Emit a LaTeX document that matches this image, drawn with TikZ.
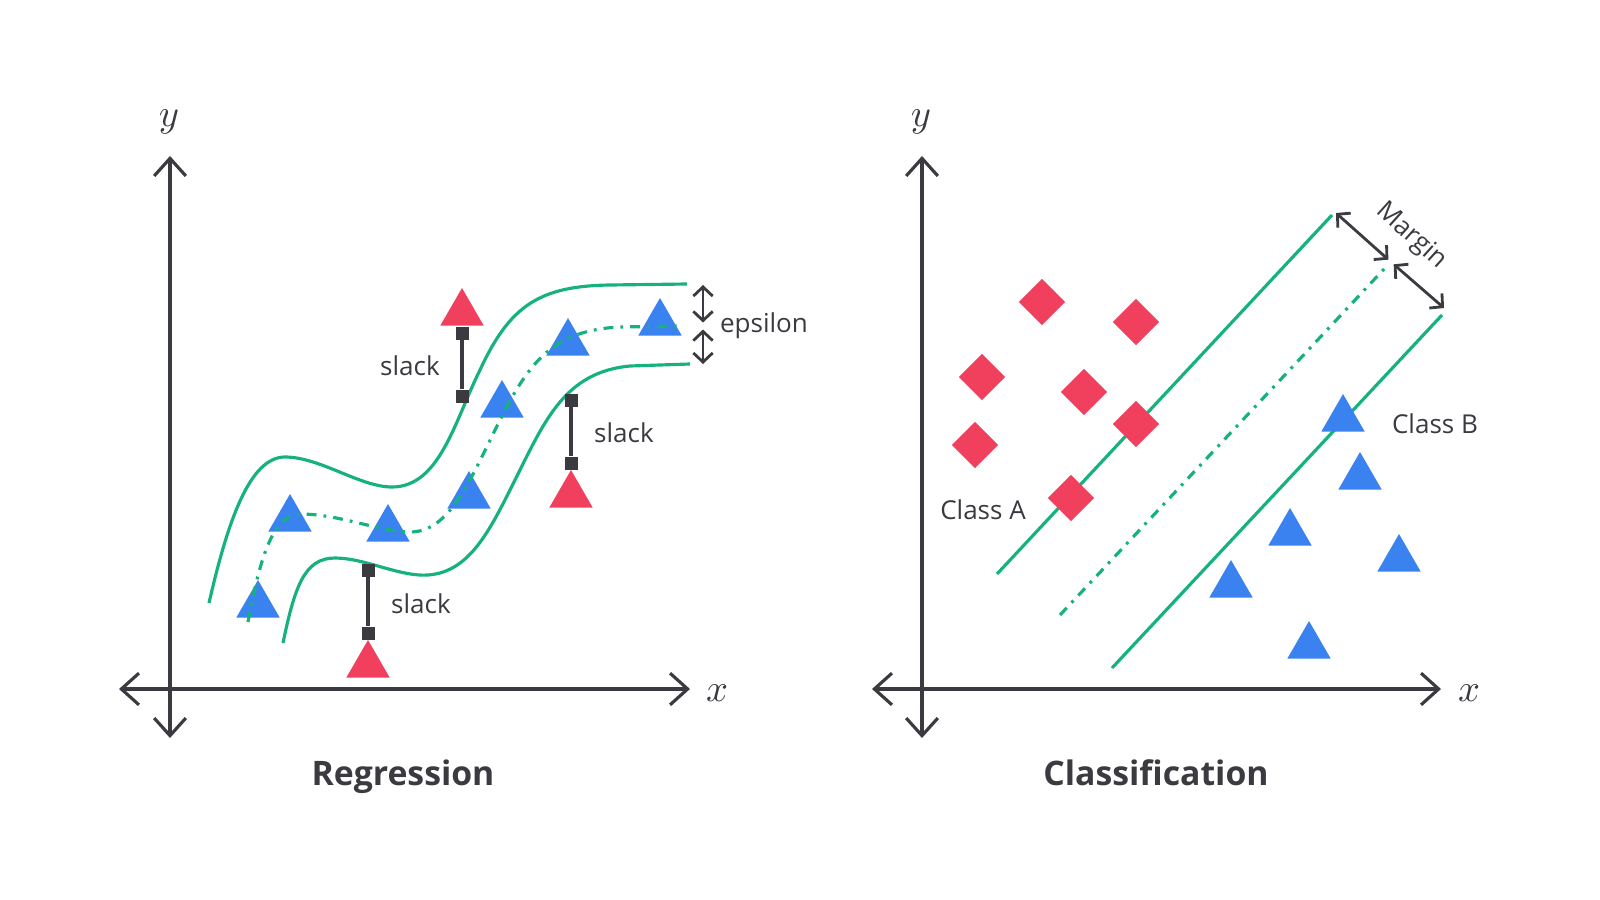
\documentclass[tikz,border=0pt]{standalone}
\usepackage{fontspec}
\setmainfont{Open Sans}
\usepackage{tikz}
\usetikzlibrary{arrows.meta, positioning, shapes.geometric}
\definecolor{inkgray}{RGB}{58, 58, 64}
\definecolor{svmgreen}{RGB}{22, 178, 125}
\definecolor{ptred}{RGB}{240, 64, 94}
\definecolor{ptblue}{RGB}{58, 130, 240}

\begin{document}
\begin{tikzpicture}[
    x=0.01cm, y=-0.01cm,
    axis/.style = {{Straight Barb[length=5pt,width=9pt]}-{Straight Barb[length=5pt,width=9pt]},
                   line width=0.9pt, draw=inkgray},
    tube/.style = {line width=0.9pt, draw=svmgreen},
    midline/.style = {tube, dash pattern=on 2.8pt off 2pt on 0.8pt off 2pt},
    bluept/.style = {regular polygon, regular polygon sides=3, fill=ptblue,
                     inner sep=0pt, minimum size=0.5cm},
    redpt/.style = {bluept, fill=ptred},
    reddia/.style = {diamond, fill=ptred, inner sep=0pt, minimum size=0.47cm},
    endsq/.style = {rectangle, fill=inkgray, inner sep=0pt, minimum size=0.13cm},
    slackbar/.style = {line width=0.9pt, draw=inkgray},
    twoway/.style = {{Straight Barb[length=2.6pt,width=5.5pt]}-{Straight Barb[length=2.6pt,width=5.5pt]},
                     line width=0.8pt, draw=inkgray},
    lbl/.style = {font=\fontsize{7.4}{9}\selectfont, text=inkgray},
    ttl/.style = {font=\fontsize{9.6}{11}\selectfont\bfseries, text=inkgray, anchor=base},
    axlbl/.style = {font=\fontsize{11}{12}\selectfont, text=inkgray}
  ]
    \useasboundingbox (0,0) rectangle (1600,900);

    % ---------- regression ----------
    \coordinate (rxl) at (119,689);
    \coordinate (rxr) at (690,689);
    \coordinate (ryt) at (170,156);
    \coordinate (ryb) at (170,738);
    \draw[axis] (rxl) -- (rxr);
    \draw[axis] (ryb) -- (ryt);
    \node[axlbl] (ry) at (169,122) {$y$};
    \node[axlbl] (rx) at (717,693) {$x$};

    % epsilon tube
    \draw[tube] (209,603) .. controls (228,520) and (250,457) .. (285,457)
      .. controls (320,457) and (360,487) .. (392,487)
      .. controls (440,487) and (455,420) .. (480,370)
      .. controls (510,305) and (540,286) .. (610,285) -- (687,284);
    \draw[tube] (283,643) .. controls (295,585) and (305,558) .. (335,558)
      .. controls (365,558) and (400,577) .. (428,575)
      .. controls (470,572) and (490,530) .. (515,480)
      .. controls (545,420) and (565,372) .. (630,366) -- (690,364);

    \node[bluept] (b1) at (258,605) {};
    \node[bluept] (b2) at (290,519) {};
    \node[bluept] (b3) at (388,529) {};
    \node[bluept] (b4) at (469,496) {};
    \node[bluept] (b5) at (502,405) {};
    \node[bluept] (b6) at (568,343) {};
    \node[bluept] (b7) at (660,323) {};

    \draw[midline] (248,622) .. controls (258,570) and (270,514) .. (300,514)
      .. controls (340,514) and (380,532) .. (410,532)
      .. controls (450,532) and (470,480) .. (500,420)
      .. controls (530,360) and (555,330) .. (620,327) -- (680,326);

    \node[redpt] (r1) at (462,313) {};
    \node[redpt] (r2) at (571,495) {};
    \node[redpt] (r3) at (368,665) {};

    \node[endsq] (s1a) at (462,333) {};
    \node[endsq] (s1b) at (462,396) {};
    \node[endsq] (s2a) at (571,400) {};
    \node[endsq] (s2b) at (571,463) {};
    \node[endsq] (s3a) at (368,570) {};
    \node[endsq] (s3b) at (368,633) {};
    \draw[slackbar] (s1a) -- (s1b);
    \draw[slackbar] (s2a) -- (s2b);
    \draw[slackbar] (s3a) -- (s3b);
    \node[lbl] (sl1) at (410,366) {slack};
    \node[lbl] (sl2) at (624,433) {slack};
    \node[lbl] (sl3) at (421,604) {slack};

    \coordinate (et) at (703,285);
    \coordinate (em) at (703,326);
    \coordinate (eb) at (703,364);
    \draw[twoway, shorten >=1pt] (et) -- (em);
    \draw[twoway, shorten <=1pt] (em) -- (eb);
    \node[lbl] (eps) at (764,326) {epsilon};

    \node[ttl] (rtitle) at (403,785) {Regression};

    % ---------- classification ----------
    \coordinate (cxl) at (872,689);
    \coordinate (cxr) at (1441,689);
    \coordinate (cyt) at (922,156);
    \coordinate (cyb) at (922,738);
    \draw[axis] (cxl) -- (cxr);
    \draw[axis] (cyb) -- (cyt);
    \node[axlbl] (cy) at (921,122) {$y$};
    \node[axlbl] (cx) at (1469,693) {$x$};

    \coordinate (ua) at (997,574);
    \coordinate (ub) at (1332,215);
    \coordinate (ma) at (1060,615);
    \coordinate (mb) at (1385,268);
    \coordinate (la) at (1112,668);
    \coordinate (lb) at (1442,315);
    \draw[tube] (ua) -- (ub);
    \draw[midline] (ma) -- (mb);
    \draw[tube] (la) -- (lb);

    \node[reddia] (d1) at (1042,302) {};
    \node[reddia] (d2) at (1136,322) {};
    \node[reddia] (d3) at (982,377) {};
    \node[reddia] (d4) at (1084,392) {};
    \node[reddia] (d5) at (1136,424) {};
    \node[reddia] (d6) at (975,445) {};
    \node[reddia] (d7) at (1071,498) {};

    \node[bluept] (t1) at (1343,419) {};
    \node[bluept] (t2) at (1360,477) {};
    \node[bluept] (t3) at (1290,533) {};
    \node[bluept] (t4) at (1399,559) {};
    \node[bluept] (t5) at (1231,585) {};
    \node[bluept] (t6) at (1309,646) {};

    \coordinate (mt) at (1336,213);
    \coordinate (mm) at (1391,262);
    \coordinate (mbt) at (1444,308);
    \draw[twoway, shorten >=1pt] (mt) -- (mm);
    \draw[twoway, shorten <=1pt] (mm) -- (mbt);
    \node[lbl, rotate=-42] (marg) at (1411,236) {Margin};

    \node[lbl] (ca) at (983,510) {Class A};
    \node[lbl] (cb) at (1435,424) {Class B};

    \node[ttl] (ctitle) at (1156,785) {Classification};
\end{tikzpicture}
\end{document}
